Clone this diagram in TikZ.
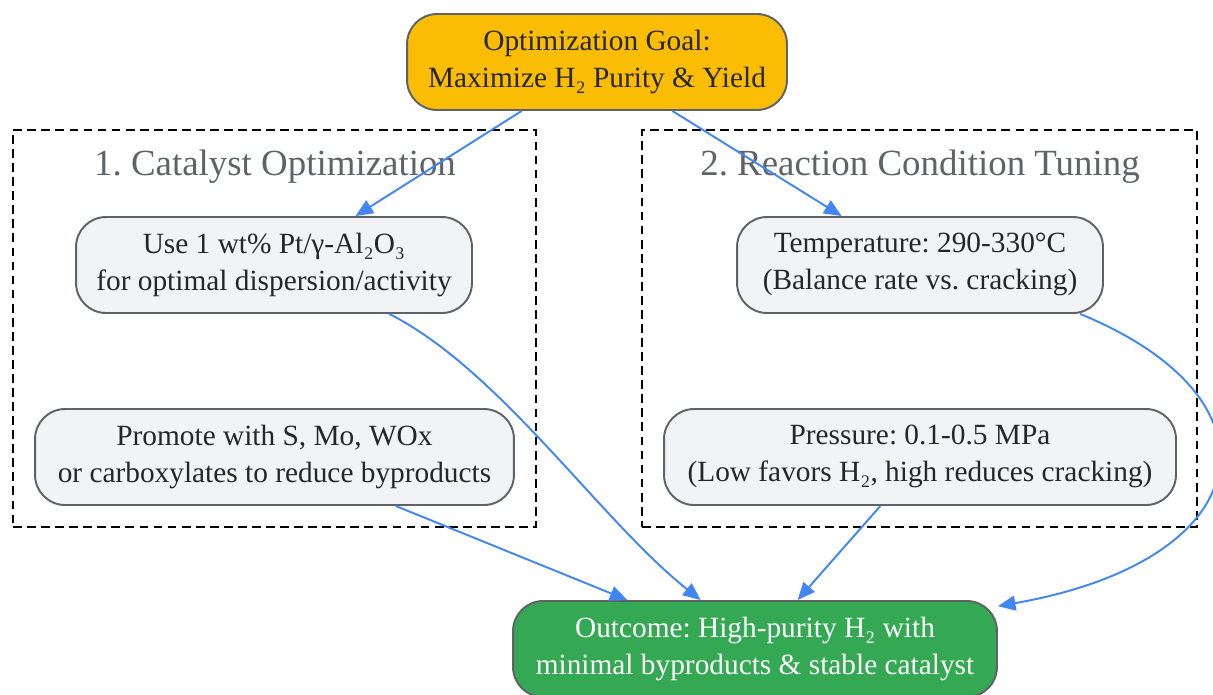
\documentclass[tikz,border=0pt]{standalone}
\usepackage{fontspec}
\setmainfont{Liberation Serif}
\usetikzlibrary{arrows.meta}
\definecolor{goalfill}{HTML}{FBBC04}
\definecolor{outfill}{HTML}{34A853}
\definecolor{stepfill}{HTML}{F1F3F4}
\definecolor{edgegray}{HTML}{5F6368}
\definecolor{linkblue}{HTML}{4285F4}
\frenchspacing
\begin{document}
\begin{tikzpicture}[x=0.02cm,y=-0.02cm,
  every node/.style={inner sep=0pt,align=center,font=\fontsize{16.7}{21}\selectfont},
  box/.style={draw=edgegray,line width=1.1pt,rounded corners=0.6cm,minimum height=1.92cm,fill=stepfill,text=black!85,text depth=4pt},
  cluster/.style={draw=black,line width=1.2pt,dash pattern=on 5pt off 3pt,minimum height=7.94cm},
  clustertitle/.style={text=edgegray,font=\fontsize{21}{25}\selectfont},
  link/.style={draw=linkblue,line width=1.1pt,-{Triangle[length=10pt,width=8.5pt]}}]
\useasboundingbox (0,0) rectangle (1213,694);

% groups
\node[cluster,minimum width=10.46cm] (grpcat) at (274.5,328.5) {};
\node[cluster,minimum width=11.1cm] (grpcond) at (919.5,328.5) {};
\node[clustertitle] (titlecat) at (275,167) {1. Catalyst Optimization};
\node[clustertitle] (titlecond) at (920,167) {2. Reaction Condition Tuning};

% steps
\node[box,fill=goalfill,minimum width=7.6cm] (goal) at (597,62) {Optimization Goal:\\Maximize H₂ Purity \& Yield};
\node[box,minimum width=7.92cm] (pt) at (274,265) {Use 1 wt\% Pt/γ-Al₂O₃\\for optimal dispersion/activity};
\node[box,minimum width=9.58cm] (prom) at (274.5,457) {Promote with S, Mo, WOx\\or carboxylates to reduce byproducts};
\node[box,minimum width=7.32cm] (temp) at (920,265) {Temperature: 290-330°C\\(Balance rate vs. cracking)};
\node[box,minimum width=10.24cm] (pres) at (920,457) {Pressure: 0.1-0.5 MPa\\(Low favors H₂, high reduces cracking)};
\node[box,fill=outfill,text=white,minimum width=9.68cm] (out) at (755,649) {Outcome: High-purity H₂ with\\minimal byproducts \& stable catalyst};

% links
\draw[link] (goal.-147) -- (pt.31);
\draw[link] (goal.-33) -- (temp.148);
\draw[link] (pt.-23) .. controls (500,370) and (600,520) .. (out.138);
\draw[link] (prom.-22) -- (out.159);
\draw[link] (pres.-129) -- (out.49);
\draw[link] (temp.-17) .. controls (1290,400) and (1260,560) .. (out.10);
\end{tikzpicture}
\end{document}
